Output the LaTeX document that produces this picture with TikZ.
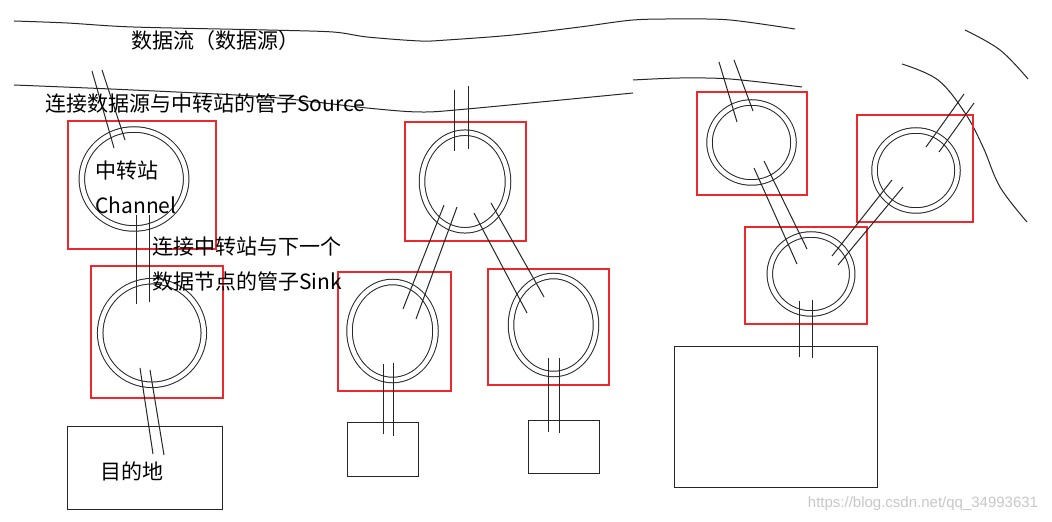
\documentclass[tikz,border=0pt]{standalone}
\usepackage{fontspec}
\setmainfont{Noto Sans CJK SC}
\newfontfamily\latinsans{Liberation Sans}
\usepackage{tikz}

\definecolor{rouge}{RGB}{237,40,44}
\tikzset{
	trait/.style={black!85, line width=0.5pt},
	cadre/.style={draw=rouge, line width=0.55pt},
	boite/.style={draw=black!85, line width=0.5pt},
	anneau/.style={draw=black!85, line width=0.5pt, double=white, double distance=2.25pt},
	texte/.style={inner sep=0pt, anchor=west, align=left, font=\fontsize{10.5pt}{17.5pt}\selectfont}
}

\begin{document}
\begin{tikzpicture}[x=0.5pt, y=-0.5pt]
	\useasboundingbox (0,0) rectangle (1052,522);

	% les flux de données
	\draw [trait] plot [smooth, tension=0.5] coordinates {(14,21) (67,23) (133,27) (267,30) (333,32) (367,37) (420,41) (447,40) (513,35) (580,27) (633,20) (680,19) (730,20) (795,29)};
	\draw [trait] plot [smooth, tension=0.5] coordinates {(14,85) (133,90) (267,97) (367,108) (420,112) (467,109) (633,93)};
	\draw [trait] plot [smooth, tension=0.5] coordinates {(633,80) (680,78) (730,79) (802,87)};
	\draw [trait] plot [smooth, tension=0.6] coordinates {(902,64) (938,80) (965,113) (983,147) (1000,187) (1027,222)};
	\draw [trait] plot [smooth, tension=0.6] coordinates {(965,30) (1000,50) (1028,79)};

	% cadres rouges
	\draw [cadre] (68,121) rectangle (216,249);
	\draw [cadre] (91,266) rectangle (223,398);
	\draw [cadre] (405,122) rectangle (526,241);
	\draw [cadre] (338,272) rectangle (451,391);
	\draw [cadre] (488,269) rectangle (609,385);
	\draw [cadre] (697,92) rectangle (807,195);
	\draw [cadre] (857,115) rectangle (973,222);
	\draw [cadre] (745,227) rectangle (867,324);

	% destinations
	\draw [boite] (67,427) rectangle (222,509);
	\draw [boite] (347,423) rectangle (418,476);
	\draw [boite] (528,421) rectangle (599,473);
	\draw [boite] (674,347) rectangle (877,487);

	% les anneaux (channel)
	\draw [anneau] (134,179) ellipse (26.1pt and 24.75pt);
	\draw [anneau] (152,333) ellipse (25.9pt and 25.9pt);
	\draw [anneau] (465,181.5) ellipse (21.5pt and 24.4pt);
	\draw [anneau] (392.5,331) ellipse (21.5pt and 24.5pt);
	\draw [anneau] (553.5,325) ellipse (21.25pt and 24.5pt);
	\draw [anneau] (751.5,142.5) ellipse (21pt and 20pt);
	\draw [anneau] (916,170.5) ellipse (20.75pt and 20pt);
	\draw [anneau] (811,274) ellipse (20.6pt and 19.75pt);

	% tuyaux
	\draw [trait] (92,71) -- (114,148);
	\draw [trait] (102,70) -- (125,140);
	\draw [trait] (136,215) -- (136,304);
	\draw [trait] (149,215) -- (149,302);
	\draw [trait] (140,368) -- (153,454);
	\draw [trait] (150,370) -- (164,455);

	\draw [trait] (454,90) -- (454,151);
	\draw [trait] (468,86) -- (468,149);
	\draw [trait] (444,205) -- (403,309);
	\draw [trait] (457,207) -- (416,319);
	\draw [trait] (474,213) -- (527,313);
	\draw [trait] (491,203) -- (544,297);
	\draw [trait] (383,364) -- (383,434);
	\draw [trait] (393,363) -- (393,436);
	\draw [trait] (548,358) -- (548,432);
	\draw [trait] (559,358) -- (559,433);

	\draw [trait] (719,62) -- (737,122);
	\draw [trait] (734,60) -- (753,111);
	\draw [trait] (754,168) -- (797,264);
	\draw [trait] (764,161) -- (807,249);
	\draw [trait] (892,180) -- (832,256);
	\draw [trait] (903,187) -- (838,265);
	\draw [trait] (964,94) -- (926,147);
	\draw [trait] (974,103) -- (939,152);
	\draw [trait] (799,301) -- (799,357);
	\draw [trait] (812,300) -- (812,358);

	% textes
	\node [texte] (flux) at (131,41) {数据流（数据源）};
	\node [texte] (source) at (45,104) {连接数据源与中转站的管子Source};
	\node [texte] (relais) at (95,187.5) {中转站\\Channel};
	\node [texte] (sink) at (152,264.5) {连接中转站与下一个\\数据节点的管子Sink};
	\node [texte] (dest) at (100,471) {目的地};
	\node [inner sep=0pt, text=black!22, font=\latinsans\fontsize{7.5pt}{9pt}\selectfont] (marque) at (923,504) {https://blog.csdn.net/qq\_34993631};
\end{tikzpicture}
\end{document}
